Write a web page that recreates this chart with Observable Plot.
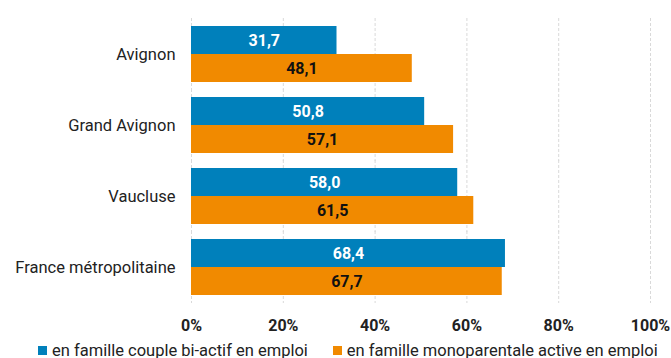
<!DOCTYPE html>
<html>
<head>
<meta charset="utf-8">
<script src="https://cdn.jsdelivr.net/npm/d3@7"></script>
<script src="https://cdn.jsdelivr.net/npm/@observablehq/plot@0.6"></script>
<style>
  html, body { margin: 0; padding: 0; background: #fff; overflow: hidden; }
  body { width: 671px; height: 358px; font-family: Roboto, sans-serif; }
  #chart svg { display: block; }
  .legend { display: flex; align-items: center; height: 20px; margin-top: 2px; padding-left: 38px; font-size: 16.5px; color: #222; white-space: nowrap; }
  .legend .item { display: flex; align-items: center; margin-right: 25px; }
  .legend .sw { width: 9px; height: 9px; margin-right: 5px; }
</style>
</head>
<body>
<div id="chart"></div>
<div class="legend" id="legend"></div>
<script>
const categories = ["Avignon", "Grand Avignon", "Vaucluse", "France métropolitaine"];
const series = ["en famille couple bi-actif en emploi", "en famille monoparentale active en emploi"];
const coupleBiActif = [31.7, 50.8, 58.0, 68.4];
const monoparentale = [48.1, 57.1, 61.5, 67.7];
const colors = ["#0080bb", "#f18a00"];
const xTicks = [0, 20, 40, 60, 80, 100];

const data = categories.flatMap((c, i) => [
  {cat: c, serie: series[0], value: coupleBiActif[i]},
  {cat: c, serie: series[1], value: monoparentale[i]}
]);
const fmt = d => d3.format(".1f")(d.value).replace(".", ",");

const chart = Plot.plot({
  width: 671,
  height: 338,
  marginLeft: 191,
  marginRight: 21,
  marginTop: 24,
  marginBottom: 41,
  style: {fontFamily: "Roboto, sans-serif", color: "#222", background: "white"},
  x: {domain: [0, 100]},
  fy: {domain: categories, paddingInner: 0.2083, paddingOuter: 0, label: null},
  y: {domain: series, axis: null, padding: 0},
  color: {domain: series, range: colors},
  marks: [
    Plot.ruleX(xTicks, {stroke: "#d9d9d9", strokeWidth: 1, strokeDasharray: "3,2", insetTop: -8, insetBottom: -8}),
    Plot.barX(data, {fy: "cat", y: "serie", x: "value", fill: "serie"}),
    Plot.text(data, {filter: d => d.serie === series[0], fy: "cat", y: "serie", x: d => d.value / 2, text: fmt, fill: "white", fontSize: 16, fontWeight: "bold"}),
    Plot.text(data, {filter: d => d.serie === series[1], fy: "cat", y: "serie", x: d => d.value / 2, text: fmt, fill: "#111", fontSize: 16, fontWeight: "bold"}),
    Plot.axisX({ticks: xTicks, tickFormat: d => d + "%", tickSize: 0, tickPadding: 24, fontSize: 16, fontWeight: "bold", label: null, fill: "#222"}),
    Plot.axisFy({anchor: "left", tickSize: 0, tickPadding: 16, fontSize: 16.5, label: null, fill: "#222"})
  ]
});
document.getElementById("chart").append(chart);

const legend = document.getElementById("legend");
series.forEach((s, i) => {
  const item = document.createElement("div");
  item.className = "item";
  const sw = document.createElement("span");
  sw.className = "sw";
  sw.style.background = colors[i];
  const t = document.createElement("span");
  t.textContent = s;
  item.append(sw, t);
  legend.append(item);
});
</script>
</body>
</html>
